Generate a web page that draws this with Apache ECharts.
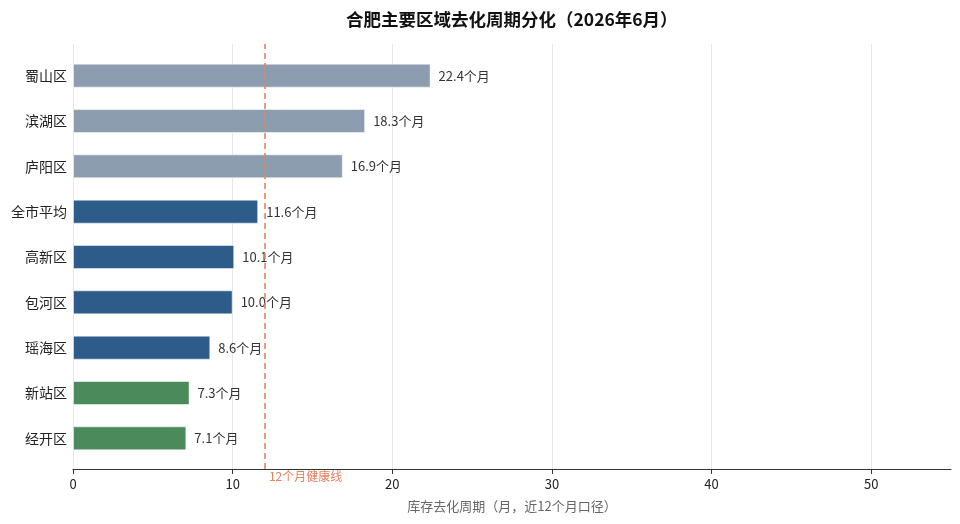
<!DOCTYPE html>
<html lang="zh-CN">
<head>
    <meta charset="utf-8">
    <title>合肥主要区域去化周期分化</title>
    <script src="https://cdn.jsdelivr.net/npm/echarts@6/dist/echarts.min.js"></script>
    <style>
        html, body { margin: 0; padding: 0; background: #fff; }
        #main { width: 960px; height: 524px; }
    </style>
</head>
<body>
<div id="main"></div>
<script type="text/javascript">
    // 数据
    var districts = ['蜀山区', '滨湖区', '庐阳区', '全市平均', '高新区', '包河区', '瑶海区', '新站区', '经开区'];
    var cycleMonths = [22.4, 18.3, 16.9, 11.6, 10.1, 10.0, 8.6, 7.3, 7.1];
    var healthLine = 12;
    var xTicks = [0, 10, 20, 30, 40, 50];

    // 颜色：高于健康线灰蓝，中间深蓝，低位绿色
    function barColor(v) {
        if (v > healthLine) return '#8c9db0';
        if (v >= 8) return '#2d5b8a';
        return '#4a8a5b';
    }

    var chart = echarts.init(document.getElementById('main'));
    var font = '"Noto Sans CJK SC", "Noto Sans", sans-serif';

    var option = {
        backgroundColor: '#fff',
        textStyle: { fontFamily: font },
        title: {
            text: '合肥主要区域去化周期分化（2026年6月）',
            left: 341,
            top: 6,
            textStyle: { fontSize: 17.5, fontWeight: 'bold', color: '#111', fontFamily: font }
        },
        grid: [
            // 坐标轴 / 网格线
            { left: 73, right: 9, top: 44, bottom: 55 },
            // 柱子
            { left: 73, right: 9, top: 53, bottom: 63 }
        ],
        xAxis: [
            {
                gridIndex: 0,
                type: 'value',
                min: 0,
                max: 55,
                interval: 10,
                name: '库存去化周期（月，近12个月口径）',
                nameLocation: 'middle',
                nameGap: 31,
                nameTextStyle: { fontSize: 13, color: '#666' },
                axisLine: { show: true, lineStyle: { color: '#333', width: 1.2 } },
                axisTick: { show: true, length: 5, customValues: xTicks, lineStyle: { color: '#333' } },
                axisLabel: { fontSize: 13, color: '#222', margin: 9, customValues: xTicks },
                splitLine: { show: true, lineStyle: { color: '#e6e6e6' } }
            },
            {
                gridIndex: 1,
                type: 'value',
                min: 0,
                max: 55,
                show: false
            }
        ],
        yAxis: [
            {
                gridIndex: 0,
                type: 'value',
                min: 0,
                max: 1,
                show: false
            },
            {
                gridIndex: 1,
                type: 'category',
                inverse: true,
                data: districts,
                axisLine: { show: false },
                axisTick: { show: false },
                axisLabel: { fontSize: 14, color: '#222', margin: 6 },
                splitLine: { show: false }
            }
        ],
        series: [
            {
                // 健康线
                type: 'line',
                xAxisIndex: 0,
                yAxisIndex: 0,
                data: [],
                silent: true,
                markLine: {
                    symbol: 'none',
                    silent: true,
                    lineStyle: { color: '#e8825f', type: [6, 4], width: 1.6 },
                    label: {
                        show: true,
                        position: 'start',
                        formatter: '12个月健康线',
                        color: '#e8825f',
                        fontSize: 12,
                        distance: 0,
                        offset: [41, 1]
                    },
                    data: [{ xAxis: healthLine }]
                }
            },
            {
                type: 'bar',
                xAxisIndex: 1,
                yAxisIndex: 1,
                barWidth: 24,
                data: cycleMonths.map(function (v) {
                    return {
                        value: v,
                        itemStyle: { color: barColor(v), borderColor: 'rgba(255,255,255,0.5)', borderWidth: 1 }
                    };
                }),
                label: {
                    show: true,
                    position: 'right',
                    distance: 8,
                    fontSize: 13,
                    color: '#333',
                    formatter: function (p) { return p.value.toFixed(1) + '个月'; }
                }
            }
        ]
    };
    chart.setOption(option);
</script>
</body>
</html>
